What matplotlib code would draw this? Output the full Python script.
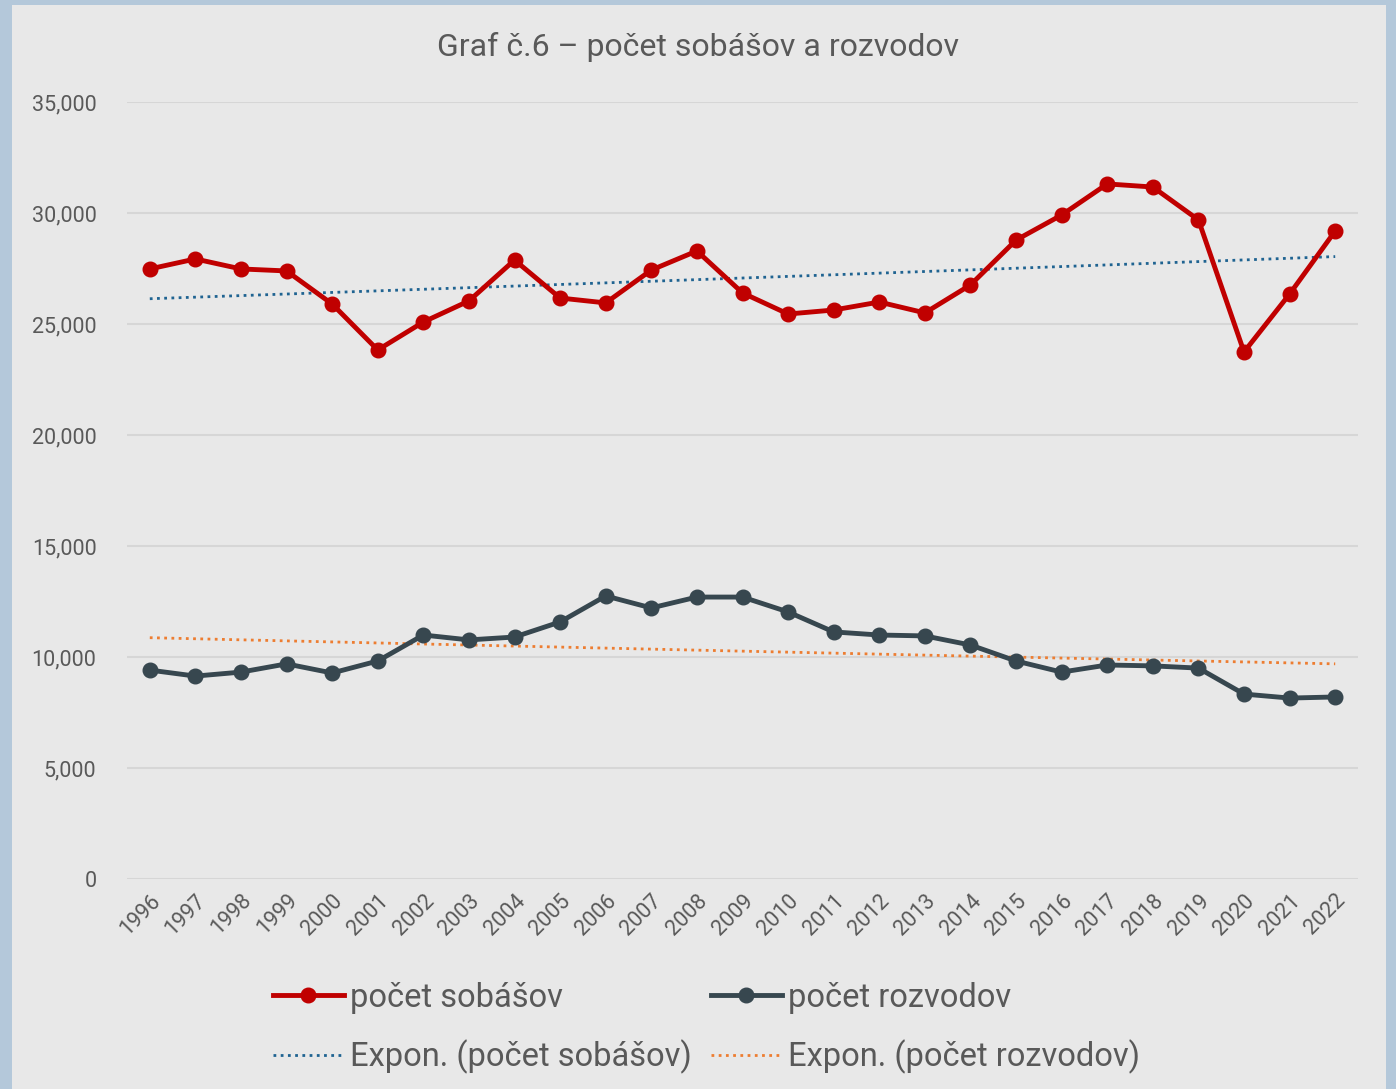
import numpy as np
import matplotlib
matplotlib.use("Agg")
import matplotlib.pyplot as plt
from matplotlib.patches import Rectangle
from matplotlib.ticker import FuncFormatter

plt.rcParams['font.family'] = ['Roboto', 'DejaVu Sans']

roky = [str(r) for r in range(1996, 2023)]
sobase = [27480, 27930, 27480, 27390, 25900, 23830, 25090, 26040, 27880, 26170,
          25950, 27430, 28290, 26400, 25450, 25630, 25990, 25500, 26760, 28780,
          29910, 31310, 31170, 29690, 23740, 26350, 29190]
rozvody = [9410, 9140, 9320, 9690, 9280, 9820, 10990, 10770, 10900, 11580,
           12750, 12210, 12700, 12700, 12030, 11130, 10990, 10950, 10540, 9820,
           9320, 9640, 9600, 9500, 8330, 8150, 8200]

TEXT = '#595959'
BG = '#e8e8e8'


def expon(y):
    # exponencialny trend ako v Exceli
    x = np.arange(1, len(y) + 1)
    b, a = np.polyfit(x, np.log(y), 1)
    return np.exp(a) * np.exp(b * x)


fig = plt.figure(figsize=(13.96, 10.89), dpi=100)
fig.patch.set_facecolor('#b4c8da')
fig.patches.append(Rectangle((12 / 1396, 0), (1386 - 12) / 1396, 1 - 5 / 1089,
                             transform=fig.transFigure, facecolor=BG,
                             edgecolor='none', zorder=-5))

ax = fig.add_axes([127 / 1396, (1089 - 879) / 1089, (1358 - 127) / 1396, (879 - 102) / 1089])
ax.set_facecolor(BG)

x = np.arange(len(roky))
ax.plot(x, sobase, color='#c00000', lw=3.5, marker='o', ms=10.5, label='počet sobášov', zorder=4)
ax.plot(x, rozvody, color='#37474f', lw=3.5, marker='o', ms=10.5, label='počet rozvodov', zorder=4)
ax.plot(x, expon(sobase), color='#1f6391', lw=2, ls=(0, (1, 1.6)), label='Expon. (počet sobášov)', zorder=3)
ax.plot(x, expon(rozvody), color='#ed7d31', lw=2, ls=(0, (1, 1.6)), label='Expon. (počet rozvodov)', zorder=3)

ax.set_xlim(-0.5, len(roky) - 0.5)
ax.set_ylim(0, 35000)
ax.set_yticks(range(0, 35001, 5000))
ax.yaxis.set_major_formatter(FuncFormatter(lambda v, p: f'{int(v):,}'))
ax.set_xticks(x)
ax.set_xticklabels(roky, rotation=45, ha='right', rotation_mode='anchor')
ax.tick_params(axis='both', length=0, colors=TEXT, labelsize=15.5)
ax.tick_params(axis='y', pad=22)
ax.tick_params(axis='x', pad=8)
ax.grid(axis='y', color='#d6d6d6', lw=1.5)
ax.set_axisbelow(True)
for s in ax.spines.values():
    s.set_visible(False)

fig.text(0.5, 1 - 47 / 1089, 'Graf č.6 – počet sobášov a rozvodov', ha='center', va='center',
         fontsize=23, color=TEXT)

h, l = ax.get_legend_handles_labels()
leg = fig.legend([h[0], h[2], h[1], h[3]], [l[0], l[2], l[1], l[3]], ncol=2,
                 loc='center left', bbox_to_anchor=(244 / 1396, 1 - 1028 / 1089),
                 frameon=False, fontsize=23.5, labelcolor=TEXT, handlelength=2.15,
                 handletextpad=0.2, columnspacing=0.6, labelspacing=0.8)

fig.savefig('out.png', dpi=100, facecolor=fig.get_facecolor())
